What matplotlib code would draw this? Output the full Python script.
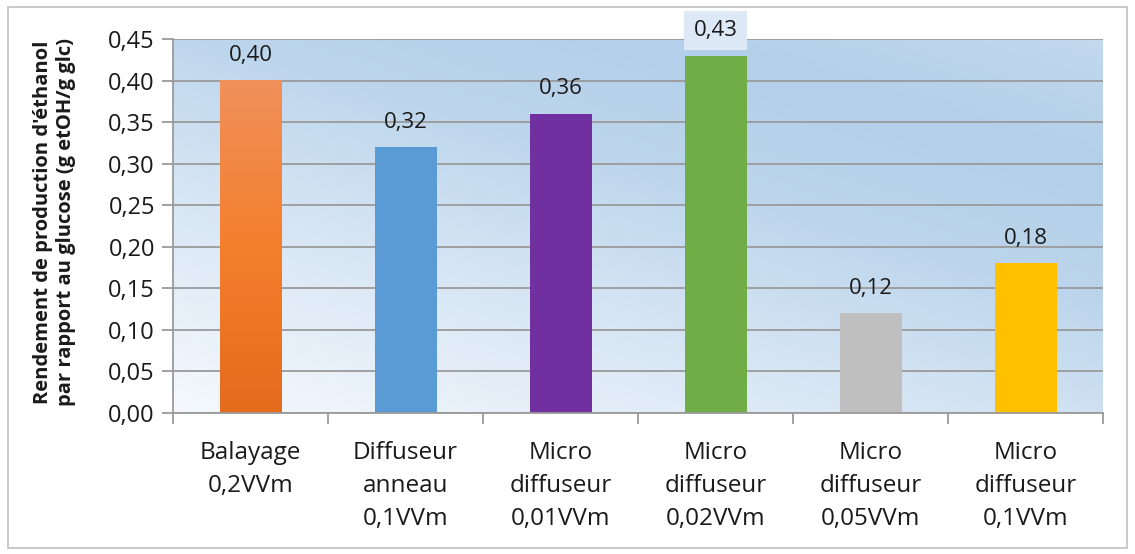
import matplotlib
matplotlib.use("Agg")
import matplotlib.pyplot as plt
import numpy as np
from matplotlib.patches import Rectangle
from matplotlib.colors import LinearSegmentedColormap

categories = ["Balayage\n0,2VVm", "Diffuseur\nanneau\n0,1VVm", "Micro\ndiffuseur\n0,01VVm",
              "Micro\ndiffuseur\n0,02VVm", "Micro\ndiffuseur\n0,05VVm", "Micro\ndiffuseur\n0,1VVm"]
values = [0.40, 0.32, 0.36, 0.43, 0.12, 0.18]
bar_colors = ["#ef7a2c", "#5b9bd5", "#7030a0", "#70ad47", "#bfbfbf", "#ffc000"]
yticks = [0.00, 0.05, 0.10, 0.15, 0.20, 0.25, 0.30, 0.35, 0.40, 0.45]
ylabel = "Rendement de production d'éthanol\npar rapport au glucose (g etOH/g glc)"

plt.rcParams['font.family'] = ['Open Sans', 'DejaVu Sans']

fig = plt.figure(figsize=(11.35, 5.54), dpi=100)
fig.patches.append(Rectangle((8/1135, 1 - 548/554), (1127-8)/1135, (548-7)/554,
                             transform=fig.transFigure, fill=False, edgecolor="#c0c0c0", lw=1.2))

ax = fig.add_axes([173/1135, 1 - 413/554, (1103-173)/1135, (413-39)/554])
ymax = 0.45
ax.set_xlim(-0.5, len(values) - 0.5)
ax.set_ylim(0, ymax)

# gradient background (bottom-left white -> top-right blue)
n = 300
xx, yy = np.meshgrid(np.linspace(0, 1, n), np.linspace(0, 1, n))
t = np.clip(0.55 * xx + 0.75 * yy, 0, 1.3) / 1.3
cmap_bg = LinearSegmentedColormap.from_list(
    "bg", [(0.0, "#f5f9fd"), (0.35, "#d6e5f4"), (0.6, "#bcd5ec"), (0.8, "#b3cfe9"), (1.0, "#c2d9ee")])
ax.imshow(t, cmap=cmap_bg, extent=[-0.5, len(values) - 0.5, 0, ymax], origin="lower",
          aspect="auto", zorder=0, vmin=0, vmax=1)

ax.set_axisbelow(True)
ax.yaxis.grid(True, color="#9a9a9a", lw=1.3, zorder=1)

x = np.arange(len(values))
width = 0.40
bars = ax.bar(x, values, width=width, color=bar_colors, zorder=2)

# orange gradient for first bar
b0 = bars[0]
b0.set_facecolor("none")
cmap_or = LinearSegmentedColormap.from_list("or", ["#e46c1c", "#f47f2d", "#f0905a"])
grad = np.linspace(0, 1, 100).reshape(-1, 1)
ax.imshow(grad, cmap=cmap_or, extent=[x[0] - width/2, x[0] + width/2, 0, values[0]],
          origin="lower", aspect="auto", zorder=2)

for xi, v in zip(x, values):
    kw = {}
    if v + 0.025 > ymax - 0.01:
        kw["bbox"] = dict(boxstyle="square,pad=0.42", facecolor="#dde9f6", edgecolor="none")
    ax.annotate(f"{v:.2f}".replace(".", ","), (xi, v), xytext=(0, 18), textcoords="offset points",
                ha="center", va="center", fontsize=16, color="#1a1a1a", zorder=5,
                annotation_clip=False, **kw)

ax.set_yticks(yticks)
ax.set_yticklabels([f"{t:.2f}".replace(".", ",") for t in yticks], fontsize=17, color="#1a1a1a")
ax.tick_params(axis="y", length=8, color="#9a9a9a", width=1.3, pad=5)

ax.set_xticks(x)
ax.set_xticklabels(categories, fontsize=17.5, color="#1a1a1a", linespacing=1.5)
ax.set_xticks(np.arange(-0.5, len(values)), minor=True)
ax.tick_params(axis="x", which="major", length=0, pad=20)
ax.tick_params(axis="x", which="minor", length=8, color="#9a9a9a", width=1.3)

for s in ["top", "right"]:
    ax.spines[s].set_visible(False)
for s in ["left", "bottom"]:
    ax.spines[s].set_color("#9a9a9a")
    ax.spines[s].set_linewidth(1.3)

fig.text(55/1135, 1 - 222/554, ylabel, rotation=90, ha="center", va="center",
         fontsize=14.5, fontweight="bold", color="#1a1a1a", linespacing=1.2)

fig.savefig("out.png", dpi=100)
